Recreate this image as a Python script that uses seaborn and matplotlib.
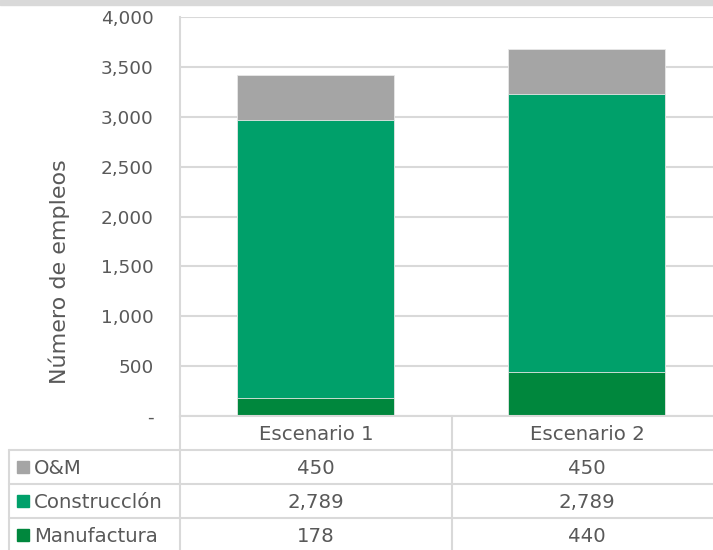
import matplotlib
matplotlib.use("Agg")
import matplotlib.pyplot as plt
import seaborn as sns
import pandas as pd
import numpy as np

# ---- data ----
scenarios = ["Escenario 1", "Escenario 2"]
series_names = ["O&M", "Construcclón", "Manufactura"]
om = [450, 450]
construccion = [2789, 2789]
manufactura = [178, 440]
yticks = [0, 500, 1000, 1500, 2000, 2500, 3000, 3500, 4000]
ylabel = "Número de empleos"

colors = {"O&M": "#A5A5A5", "Construcclón": "#00A06A", "Manufactura": "#00873D"}
text_col = "#595959"
grid_col = "#D9D9D9"

sns.set_theme(style="white")
plt.rcParams["font.family"] = ["DejaVu Sans"]

W, H = 713, 550
fig = plt.figure(figsize=(W / 100, H / 100), dpi=100)

# main axes in pixel geometry
x0, x1 = 180, 722
ytop, ybot = 17, 416
ax = fig.add_axes([x0 / W, 1 - ybot / H, (x1 - x0) / W, (ybot - ytop) / H])

df = pd.DataFrame({"Escenario": scenarios, "O&M": om,
                   "Construcclón": construccion, "Manufactura": manufactura})
df["tot3"] = df["Manufactura"] + df["Construcclón"] + df["O&M"]
df["tot2"] = df["Manufactura"] + df["Construcclón"]
df["tot1"] = df["Manufactura"]

bw = 0.576
for col, name in [("tot3", "O&M"), ("tot2", "Construcclón"), ("tot1", "Manufactura")]:
    sns.barplot(data=df, x="Escenario", y=col, color=colors[name], width=bw,
                saturation=1, ax=ax, edgecolor="#E8E8E8", linewidth=0.6, zorder=3)

ax.set_xlim(-0.5, 1.5)
ax.set_ylim(0, 4000)
ax.set_yticks(yticks)
ax.set_yticklabels(["-" if v == 0 else f"{v:,}" for v in yticks])
ax.yaxis.grid(True, color=grid_col, linewidth=1.5, zorder=0)
ax.set_axisbelow(True)
ax.tick_params(axis="y", length=0, pad=19, labelsize=13.3, labelcolor=text_col)
ax.set_xticks([])
ax.set_xlabel("")
ax.set_ylabel("")
for s in ["top", "right", "bottom"]:
    ax.spines[s].set_visible(False)
ax.spines["left"].set_color(grid_col)
ax.spines["left"].set_linewidth(1.5)

fig.text(59 / W, 1 - 272 / H, ylabel, rotation=90, ha="center", va="center",
         fontsize=16, color=text_col)

# ---- data table overlay (pixel coordinates) ----
tx = fig.add_axes([0, 0, 1, 1], facecolor="none")
tx.set_xlim(0, W)
tx.set_ylim(H, 0)
tx.axis("off")

row_edges = [416, 450, 484, 518, 552]
col_edges = [9, 180, 452, 722]
lw = 1.5
# horizontal lines
tx.plot([180, 722], [row_edges[0]] * 2, color=grid_col, lw=lw)
for r in row_edges[1:]:
    tx.plot([9, 722], [r, r], color=grid_col, lw=lw)
# vertical lines
tx.plot([9, 9], [450, 552], color=grid_col, lw=lw)
for c in col_edges[1:]:
    tx.plot([c, c], [416, 552], color=grid_col, lw=lw)

fs = 14.2
for j, sc in enumerate(scenarios):
    cx = (col_edges[j + 1] + col_edges[j + 2]) / 2
    tx.text(cx, (row_edges[0] + row_edges[1]) / 2 + 1, sc, ha="center", va="center",
            fontsize=fs, color=text_col)

vals = {"O&M": om, "Construcclón": construccion, "Manufactura": manufactura}
for i, name in enumerate(series_names):
    cy = (row_edges[i + 1] + row_edges[i + 2]) / 2
    tx.plot([22.5], [cy], marker="s", markersize=8, color=colors[name], linestyle="none")
    tx.text(34, cy + 1, name, ha="left", va="center", fontsize=fs, color=text_col)
    for j in range(len(scenarios)):
        cx = (col_edges[j + 1] + col_edges[j + 2]) / 2
        tx.text(cx, cy + 1, f"{vals[name][j]:,}", ha="center", va="center",
                fontsize=fs, color=text_col)

# top cut-off header band
tx.add_patch(plt.Rectangle((0, 0), W, 5, color="#D9D9D9", zorder=0))

fig.savefig("out.png", dpi=100)
